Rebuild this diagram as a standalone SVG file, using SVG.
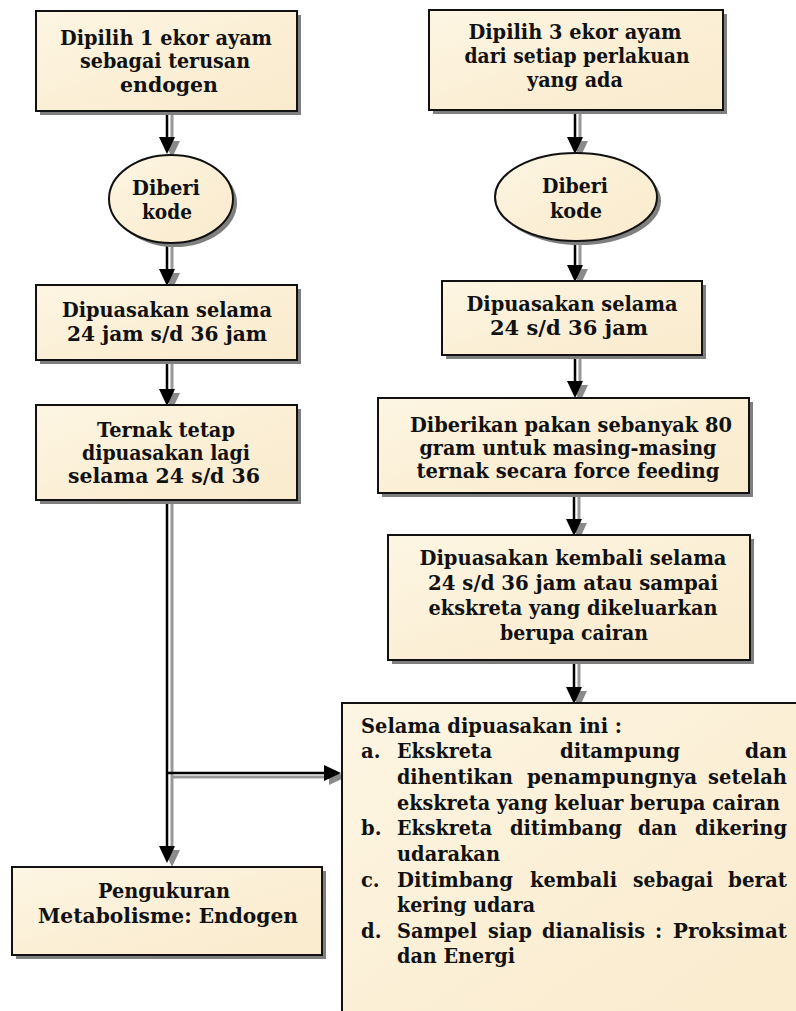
<svg xmlns="http://www.w3.org/2000/svg" width="796" height="1011" viewBox="0 0 796 1011">
<style>
.bx{fill:url(#parch);stroke:#111;stroke-width:2}
.sh{fill:#7f7f7f}
.t{font-family:"DejaVu Serif","Liberation Serif",serif;font-weight:bold;font-size:19.5px;fill:#111}
.m{text-anchor:middle}
.cl{fill:none;stroke:#000;stroke-width:2.5}
.cs{fill:none;stroke:#999;stroke-width:3}
</style>
<defs>
<linearGradient id="parch" x1="0" y1="0" x2="1" y2="1">
<stop offset="0" stop-color="#fdf6e3"/>
<stop offset="0.5" stop-color="#fbefd6"/>
<stop offset="1" stop-color="#f9ebcd"/>
</linearGradient>
<marker id="ah" markerUnits="userSpaceOnUse" markerWidth="17" markerHeight="16" viewBox="0 0 17 16" refX="0" refY="8" orient="auto">
<path d="M0,0 L17,8 L0,16 z" fill="#000"/>
</marker>
<marker id="ahs" markerUnits="userSpaceOnUse" markerWidth="17" markerHeight="16" viewBox="0 0 17 16" refX="0" refY="8" orient="auto">
<path d="M0,0 L17,8 L0,16 z" fill="#8a8a8a"/>
</marker>
</defs>
<rect width="796" height="1011" fill="#fff"/>

<g id="connectors">
<g transform="translate(5,4)">
<path class="cs" marker-end="url(#ahs)" d="M167,111 V137"/>
<path class="cs" marker-end="url(#ahs)" d="M167,243 V269"/>
<path class="cs" marker-end="url(#ahs)" d="M167,360 V389"/>
<path class="cs" marker-end="url(#ahs)" d="M167,500 V846"/>
<path class="cs" marker-end="url(#ahs)" d="M167,773 H324"/>
<path class="cs" marker-end="url(#ahs)" d="M575,110 V137"/>
<path class="cs" marker-end="url(#ahs)" d="M575,241 V265"/>
<path class="cs" marker-end="url(#ahs)" d="M575,355 V381"/>
<path class="cs" marker-end="url(#ahs)" d="M574,493 V519"/>
<path class="cs" marker-end="url(#ahs)" d="M574,660 V687"/>
</g>
<path class="cl" marker-end="url(#ah)" d="M167,111 V137"/>
<path class="cl" marker-end="url(#ah)" d="M167,243 V269"/>
<path class="cl" marker-end="url(#ah)" d="M167,360 V389"/>
<path class="cl" marker-end="url(#ah)" d="M167,500 V846"/>
<path class="cl" marker-end="url(#ah)" d="M167,773 H324"/>
<path class="cl" marker-end="url(#ah)" d="M575,110 V137"/>
<path class="cl" marker-end="url(#ah)" d="M575,241 V265"/>
<path class="cl" marker-end="url(#ah)" d="M575,355 V381"/>
<path class="cl" marker-end="url(#ah)" d="M574,493 V519"/>
<path class="cl" marker-end="url(#ah)" d="M574,660 V687"/>
</g>

<g id="node-l1">
<rect class="sh" x="40" y="15" width="261" height="100"/>
<rect class="bx" x="36" y="11" width="261" height="100"/>
<text class="t m" x="166" y="45" textLength="212" lengthAdjust="spacingAndGlyphs">Dipilih 1 ekor ayam</text>
<text class="t m" x="165" y="68" textLength="170" lengthAdjust="spacingAndGlyphs">sebagai terusan</text>
<text class="t m" x="169" y="92" textLength="98" lengthAdjust="spacingAndGlyphs">endogen</text>
</g>

<g id="node-l2">
<ellipse class="sh" cx="175" cy="203" rx="62" ry="44"/>
<ellipse class="bx" cx="171" cy="199" rx="62" ry="44"/>
<text class="t m" x="166" y="195" textLength="68" lengthAdjust="spacingAndGlyphs">Diberi</text>
<text class="t m" x="167" y="219" textLength="50" lengthAdjust="spacingAndGlyphs">kode</text>
</g>

<g id="node-l3">
<rect class="sh" x="40" y="289" width="261" height="75"/>
<rect class="bx" x="36" y="285" width="261" height="75"/>
<text class="t m" x="167" y="317" textLength="210" lengthAdjust="spacingAndGlyphs">Dipuasakan selama</text>
<text class="t m" x="167" y="341" textLength="200" lengthAdjust="spacingAndGlyphs">24 jam s/d 36 jam</text>
</g>

<g id="node-l4">
<rect class="sh" x="40" y="409" width="261" height="95"/>
<rect class="bx" x="36" y="405" width="261" height="95"/>
<text class="t m" x="166" y="437" textLength="138" lengthAdjust="spacingAndGlyphs">Ternak tetap</text>
<text class="t m" x="166" y="460" textLength="168" lengthAdjust="spacingAndGlyphs">dipuasakan lagi</text>
<text class="t m" x="164" y="483" textLength="192" lengthAdjust="spacingAndGlyphs">selama 24 s/d 36</text>
</g>

<g id="node-l5">
<rect class="sh" x="16" y="871" width="310" height="88"/>
<rect class="bx" x="12" y="867" width="310" height="88"/>
<text class="t m" x="164" y="898" textLength="132" lengthAdjust="spacingAndGlyphs">Pengukuran</text>
<text class="t m" x="168" y="923" textLength="260" lengthAdjust="spacingAndGlyphs">Metabolisme: Endogen</text>
</g>

<g id="node-r1">
<rect class="sh" x="433" y="14" width="294" height="100"/>
<rect class="bx" x="429" y="10" width="294" height="100"/>
<text class="t m" x="575" y="39" textLength="213" lengthAdjust="spacingAndGlyphs">Dipilih 3 ekor ayam</text>
<text class="t m" x="577" y="63" textLength="225" lengthAdjust="spacingAndGlyphs">dari setiap perlakuan</text>
<text class="t m" x="575" y="87" textLength="96" lengthAdjust="spacingAndGlyphs">yang ada</text>
</g>

<g id="node-r2">
<ellipse class="sh" cx="580" cy="201" rx="81" ry="44"/>
<ellipse class="bx" cx="576" cy="197" rx="81" ry="44"/>
<text class="t m" x="575" y="193" textLength="66" lengthAdjust="spacingAndGlyphs">Diberi</text>
<text class="t m" x="576" y="218" textLength="52" lengthAdjust="spacingAndGlyphs">kode</text>
</g>

<g id="node-r3">
<rect class="sh" x="446" y="285" width="260" height="74"/>
<rect class="bx" x="442" y="281" width="260" height="74"/>
<text class="t m" x="572" y="311" textLength="211" lengthAdjust="spacingAndGlyphs">Dipuasakan selama</text>
<text class="t m" x="569" y="335" textLength="158" lengthAdjust="spacingAndGlyphs">24 s/d 36 jam</text>
</g>

<g id="node-r4">
<rect class="sh" x="382" y="402" width="371" height="95"/>
<rect class="bx" x="378" y="398" width="371" height="95"/>
<text class="t m" x="571" y="432" textLength="322" lengthAdjust="spacingAndGlyphs">Diberikan pakan sebanyak 80</text>
<text class="t m" x="568" y="455" textLength="297" lengthAdjust="spacingAndGlyphs">gram untuk masing-masing</text>
<text class="t m" x="568" y="478" textLength="303" lengthAdjust="spacingAndGlyphs">ternak secara force feeding</text>
</g>

<g id="node-r5">
<rect class="sh" x="392" y="539" width="362" height="125"/>
<rect class="bx" x="388" y="535" width="362" height="125"/>
<text class="t m" x="573" y="565" textLength="307" lengthAdjust="spacingAndGlyphs">Dipuasakan kembali selama</text>
<text class="t m" x="573" y="590" textLength="290" lengthAdjust="spacingAndGlyphs">24 s/d 36 jam atau sampai</text>
<text class="t m" x="573" y="615" textLength="289" lengthAdjust="spacingAndGlyphs">ekskreta yang dikeluarkan</text>
<text class="t m" x="574" y="640" textLength="148" lengthAdjust="spacingAndGlyphs">berupa cairan</text>
</g>

<g id="node-r6">
<rect class="sh" x="346" y="707" width="470" height="330"/>
<rect class="bx" x="342" y="703" width="470" height="330"/>
<text class="t" x="361" y="733" textLength="261" lengthAdjust="spacingAndGlyphs">Selama dipuasakan ini :</text>
<text class="t" x="361" y="758">a.</text>
<text class="t" x="397" y="758" textLength="95" lengthAdjust="spacingAndGlyphs">Ekskreta</text>
<text class="t" x="560" y="758" textLength="120" lengthAdjust="spacingAndGlyphs">ditampung</text>
<text class="t" x="745" y="758" textLength="42" lengthAdjust="spacingAndGlyphs">dan</text>
<text class="t" x="397" y="784" textLength="116" lengthAdjust="spacingAndGlyphs">dihentikan</text>
<text class="t" x="527" y="784" textLength="170" lengthAdjust="spacingAndGlyphs">penampungnya</text>
<text class="t" x="708" y="784" textLength="79" lengthAdjust="spacingAndGlyphs">setelah</text>
<text class="t" x="397" y="810" textLength="383" lengthAdjust="spacingAndGlyphs">ekskreta yang keluar berupa cairan</text>
<text class="t" x="361" y="835">b.</text>
<text class="t" x="397" y="835" textLength="95" lengthAdjust="spacingAndGlyphs">Ekskreta</text>
<text class="t" x="510" y="835" textLength="112" lengthAdjust="spacingAndGlyphs">ditimbang</text>
<text class="t" x="638" y="835" textLength="39" lengthAdjust="spacingAndGlyphs">dan</text>
<text class="t" x="695" y="835" textLength="92" lengthAdjust="spacingAndGlyphs">dikering</text>
<text class="t" x="397" y="861" textLength="103" lengthAdjust="spacingAndGlyphs">udarakan</text>
<text class="t" x="361" y="887">c.</text>
<text class="t" x="397" y="887" textLength="116" lengthAdjust="spacingAndGlyphs">Ditimbang</text>
<text class="t" x="530" y="887" textLength="87" lengthAdjust="spacingAndGlyphs">kembali</text>
<text class="t" x="633" y="887" textLength="80" lengthAdjust="spacingAndGlyphs">sebagai</text>
<text class="t" x="728" y="887" textLength="59" lengthAdjust="spacingAndGlyphs">berat</text>
<text class="t" x="397" y="912" textLength="138" lengthAdjust="spacingAndGlyphs">kering udara</text>
<text class="t" x="361" y="938">d.</text>
<text class="t" x="397" y="938" textLength="80" lengthAdjust="spacingAndGlyphs">Sampel</text>
<text class="t" x="488" y="938" textLength="44" lengthAdjust="spacingAndGlyphs">siap</text>
<text class="t" x="542" y="938" textLength="103" lengthAdjust="spacingAndGlyphs">dianalisis</text>
<text class="t" x="655" y="938">:</text>
<text class="t" x="673" y="938" textLength="114" lengthAdjust="spacingAndGlyphs">Proksimat</text>
<text class="t" x="397" y="963" textLength="118" lengthAdjust="spacingAndGlyphs">dan Energi</text>
</g>
</svg>
